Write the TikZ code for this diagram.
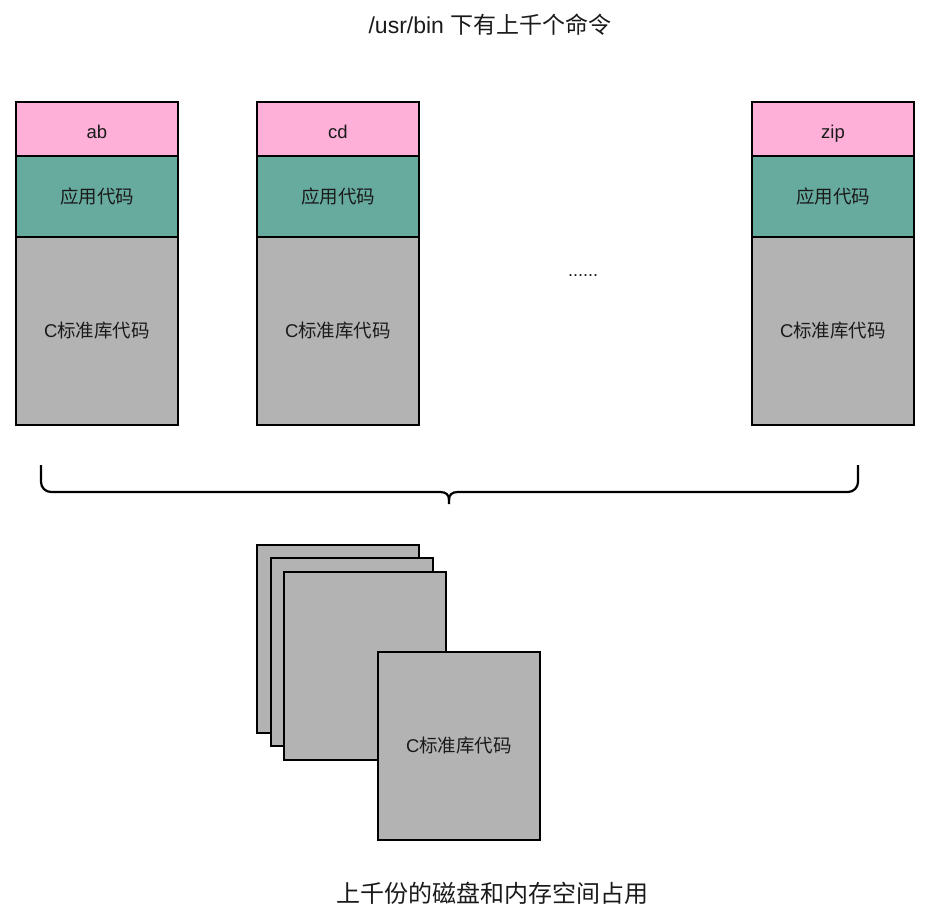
\documentclass[tikz,border=0pt]{standalone}
\usepackage{fontspec}
\setmainfont{Liberation Sans}
\newfontfamily\cjk{Noto Sans CJK SC}
\definecolor{pinkfill}{HTML}{FFB0D8}
\definecolor{greenfill}{HTML}{67AB9F}
\definecolor{greyfill}{HTML}{B3B3B3}
\definecolor{inkcol}{HTML}{1A1A1A}
\tikzset{
  blk/.style={draw=black, line width=2.2pt, minimum width=162pt, inner sep=0pt, text=inkcol, font=\fontsize{18.5}{20}\selectfont},
  namebox/.style={blk, fill=pinkfill, minimum height=54pt, text height=19pt, text depth=0pt},
  appbox/.style={blk, fill=greenfill, minimum height=81pt},
  libbox/.style={blk, fill=greyfill, minimum height=188pt},
  copybox/.style={blk, fill=greyfill, minimum height=188pt},
  bracepath/.style={draw=black, line width=2.2pt},
  caption/.style={text=inkcol, inner sep=0pt},
}
\begin{document}
\begin{tikzpicture}[x=1pt,y=-1pt]
\useasboundingbox (0,0) rectangle (930,919);
% title
\node[caption, font=\fontsize{23}{26}\selectfont] (title) at (490,25) {/usr/bin {\cjk 下有上千个命令}};
% block ab
\node[namebox] (ab) at (97,129) {ab};
\node[appbox] (abapp) at (97,196.5) {\cjk 应用代码};
\node[libbox] (ablib) at (97,331) {C{\cjk 标准库代码}};
% block cd
\node[namebox] (cd) at (338,129) {cd};
\node[appbox] (cdapp) at (338,196.5) {\cjk 应用代码};
\node[libbox] (cdlib) at (338,331) {C{\cjk 标准库代码}};
% block zip
\node[namebox] (zip) at (833,129) {zip};
\node[appbox] (zipapp) at (833,196.5) {\cjk 应用代码};
\node[libbox] (ziplib) at (833,331) {C{\cjk 标准库代码}};
% dots
\node[caption, font=\fontsize{18}{20}\selectfont] (dots) at (583,276) {......};
% brace
\coordinate (bl) at (41,465);
\coordinate (br) at (858,465);
\coordinate (bt) at (449,504);
\draw[bracepath, rounded corners=10pt] (bl) -- (41,492) -- (440,492);
\draw[bracepath] (440,492) .. controls (446.5,492) and (449,495) .. (449,500) -- (bt);
\draw[bracepath, rounded corners=10pt] (br) -- (858,492) -- (458,492);
\draw[bracepath] (458,492) .. controls (451.5,492) and (449,495) .. (449,500);
% stacked copies
\node[copybox] (c1) at (338,639) {};
\node[copybox] (c2) at (352,652) {};
\node[copybox] (c3) at (365,666) {};
\node[copybox] (c4) at (459,746) {C{\cjk 标准库代码}};
% bottom caption
\node[caption, font=\fontsize{24}{28}\selectfont] (bottom) at (492,893) {\cjk 上千份的磁盘和内存空间占用};
\end{tikzpicture}
\end{document}
